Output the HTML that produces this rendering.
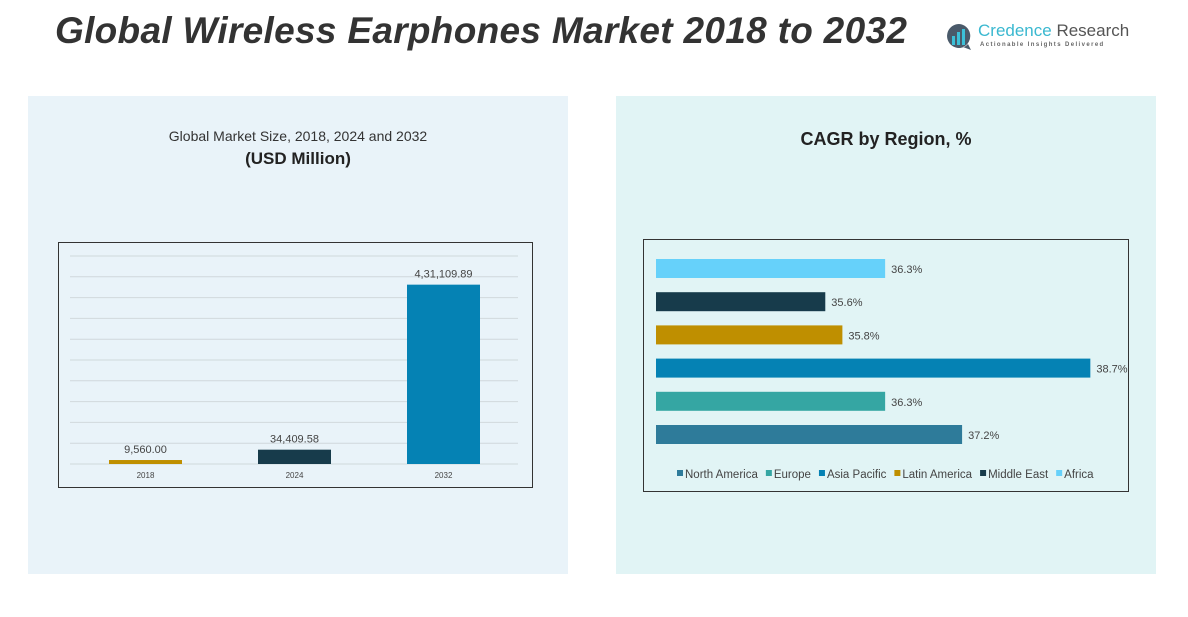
<!DOCTYPE html>
<html><head><meta charset="utf-8">
<style>
body{margin:0;width:1188px;height:617px;background:#fff;font-family:"Liberation Sans",sans-serif;position:relative;overflow:hidden}
.abs{position:absolute}
</style></head>
<body>
<div class="abs" style="left:55px;top:10px;font-size:37px;font-weight:bold;font-style:italic;color:#333;letter-spacing:0.3px">Global Wireless Earphones Market 2018 to 2032</div>
<div class="abs" style="left:945px;top:20px;width:190px;height:32px">
  <svg width="28" height="30" style="position:absolute;left:0;top:2px"><path d="M14 2a12 12 0 1 0 9 20l3 6-8-3A12 12 0 0 0 14 2z" fill="#4a5a6a"/><rect x="7" y="14" width="3" height="9" fill="#3cc0d8"/><rect x="12" y="10" width="3" height="13" fill="#3cc0d8"/><rect x="17" y="7" width="3" height="16" fill="#3cc0d8"/></svg>
  <div class="abs" style="left:33px;top:1px;font-size:17px;color:#555;white-space:nowrap"><span style="color:#3ab8d0">Credence</span> Research</div>
  <div class="abs" style="left:35px;top:22px;font-size:6px;color:#666;letter-spacing:1.4px;white-space:nowrap;font-weight:bold">Actionable Insights Delivered</div>
</div>
<div class="abs" style="left:28px;top:96px;width:540px;height:478px;background:#e9f3f9"></div>
<div class="abs" style="left:616px;top:96px;width:540px;height:478px;background:#e1f4f5"></div>
<div class="abs" style="left:28px;top:128px;width:540px;text-align:center;font-size:14px;color:#333">Global Market Size, 2018, 2024 and 2032</div>
<div class="abs" style="left:28px;top:149px;width:540px;text-align:center;font-size:17px;font-weight:bold;color:#222">(USD Million)</div>
<div class="abs" style="left:616px;top:129px;width:540px;text-align:center;font-size:18px;font-weight:bold;color:#222">CAGR by Region, %</div>
<svg class="abs" id="left" style="left:0;top:0" width="600" height="617"></svg>
<svg class="abs" id="right" style="left:0;top:0" width="1188" height="617"></svg>
<script>
const years=["2018","2024","2032"];
const sizes=[9560.00,34409.58,431109.89];
const sizeLabels=["9,560.00","34,409.58","4,31,109.89"];
const regions=["North America","Europe","Asia Pacific","Latin America","Middle East","Africa"];
const cagr=[37.2,36.3,38.7,35.8,35.6,36.3];
const cagrLabels=["37.2%","36.3%","38.7%","35.8%","35.6%","36.3%"];
const regionColors=["#2e7b9a","#35a6a3","#0582b4","#bf8f00","#173b4b","#66d1fa"];
const yearColors=["#bf8f00","#173b4b","#0582b4"];
const NS="http://www.w3.org/2000/svg";
function mk(p,t,a){const e=document.createElementNS(NS,t);for(const k in a)e.setAttribute(k,a[k]);p.appendChild(e);return e;}
const L=document.getElementById('left');
let box=mk(L,'rect',{x:58.5,y:242.5,width:474,height:245,fill:'none',stroke:'#333','stroke-width':1});

const y0=464,yMax=500000,yTop=256;
const ys=v=>y0-(v/yMax)*(y0-yTop);
for(let g=0;g<=10;g++){const gy=ys(g*50000);const l=mk(L,'line',{x1:70,x2:518,y1:gy,y2:gy,stroke:'#d0d8dc','stroke-width':1});
}
const bw=73,step=149,x0=109;
years.forEach((yr,i)=>{const x=x0+i*step;const top=ys(sizes[i]);
const r=mk(L,'rect',{x:x,y:top,width:bw,height:y0-top,fill:yearColors[i]});

const t=mk(L,'text',{x:x+bw/2,y:top-7,'text-anchor':'middle','font-size':11,fill:'#444'});t.textContent=sizeLabels[i];

const c=mk(L,'text',{x:x+bw/2,y:478,'text-anchor':'middle','font-size':8,fill:'#444'});c.textContent=yr;
});
const R=document.getElementById('right');
let box2=mk(R,'rect',{x:643.5,y:239.5,width:485,height:252,fill:'none',stroke:'#333','stroke-width':1});

const xMin=33.62,px=85.5;
const xL=656;
const xs=v=>xL+(v-xMin)*px;
const bh=19,bstep=33.2,yBottom=425;
regions.forEach((rg,i)=>{const y=yBottom-i*bstep;const w=xs(cagr[i])-xL;
const r=mk(R,'rect',{x:xL,y:y,width:w,height:bh,fill:regionColors[i]});

const t=mk(R,'text',{x:xL+w+6,y:y+14,'font-size':11,fill:'#444'});t.textContent=cagrLabels[i];
});
let lx=677;
regions.forEach((rg,i)=>{const s=mk(R,'rect',{x:lx,y:470,width:6,height:6,fill:regionColors[i]});

const t=mk(R,'text',{x:lx+8,y:478,'font-size':11.5,fill:'#444'});t.textContent=rg;

lx+=8+t.getComputedTextLength()+8;});
</script>
</body></html>
